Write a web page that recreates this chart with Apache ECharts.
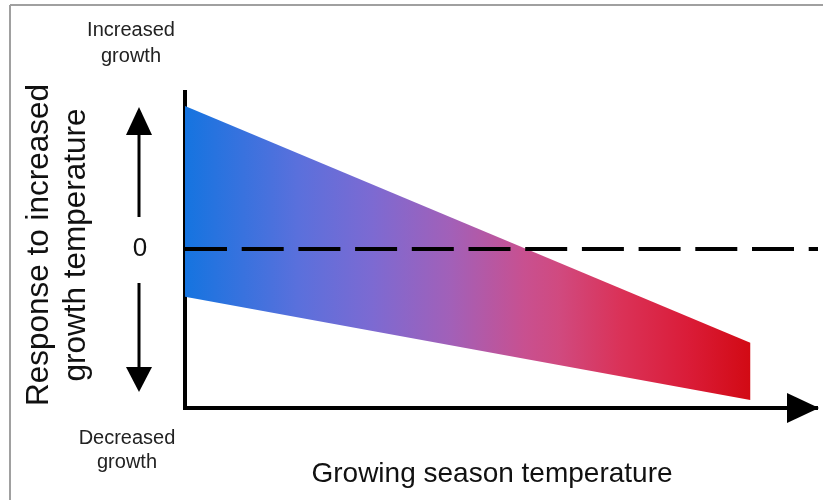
<!DOCTYPE html>
<html>
<head>
<meta charset="utf-8">
<script src="https://cdn.jsdelivr.net/npm/echarts@6/dist/echarts.min.js"></script>
<style>
html,body{margin:0;padding:0;background:#fff;}
#chart{width:823px;height:500px;}
</style>
</head>
<body>
<div id="chart"></div>
<script>
// Conceptual data (arbitrary units): x = growing season temperature, y = response
const bandX = [0, 8.93];          // band start / end along the temperature axis
const bandUpper = [4.5, -2.95];   // upper edge of response band
const bandLower = [-1.5, -4.75];  // lower edge of response band
const zeroLineX = [0, 10];        // extent of dashed zero-response line
const zeroLineY = [0, 0];
const xRange = [0, 10];
const yRange = [-5, 5];
const yTitle = 'Response to increased\ngrowth temperature';
const xTitle = 'Growing season temperature';
const topLabel = 'Increased\ngrowth';
const bottomLabel = 'Decreased\ngrowth';
const zeroLabel = '0';

const FONT = '"Liberation Sans", Arial, Helvetica, sans-serif';
const chart = echarts.init(document.getElementById('chart'), null, {renderer: 'canvas'});

const bandData = bandX.map((x, i) => [x, bandUpper[i], bandLower[i]]);
const zeroData = zeroLineX.map((x, i) => [x, zeroLineY[i]]);

const option = {
  backgroundColor: '#ffffff',
  animation: false,
  grid: {left: 185, right: 5, top: 90, bottom: 92, containLabel: false},
  xAxis: {
    type: 'value', min: xRange[0], max: xRange[1],
    axisLine: {show: true, onZero: false, symbol: ['none', 'triangle'], symbolSize: [30, 32], symbolOffset: [0, -15],
      lineStyle: {color: '#000', width: 4, cap: 'butt'}},
    axisTick: {show: false}, axisLabel: {show: false}, splitLine: {show: false}
  },
  yAxis: {
    type: 'value', min: yRange[0], max: yRange[1],
    axisLine: {show: true, onZero: false, lineStyle: {color: '#000', width: 4, cap: 'butt'}},
    axisTick: {show: false}, axisLabel: {show: false}, splitLine: {show: false}
  },
  series: [
    {
      type: 'custom',
      data: [0],
      clip: false,
      z: 1,
      renderItem: function (params, api) {
        const pts = [];
        for (let i = 0; i < bandData.length; i++) pts.push(api.coord([bandData[i][0], bandData[i][1]]));
        for (let i = bandData.length - 1; i >= 0; i--) pts.push(api.coord([bandData[i][0], bandData[i][2]]));
        return {
          type: 'polygon',
          shape: {points: pts},
          style: {
            fill: new echarts.graphic.LinearGradient(0, 0, 1, 0, [
              {offset: 0, color: '#1574e0'},
              {offset: 0.2, color: '#5a70dc'},
              {offset: 0.33, color: '#7c6ad2'},
              {offset: 0.47, color: '#a260b8'},
              {offset: 0.6, color: '#c85090'},
              {offset: 0.66, color: '#d04a80'},
              {offset: 0.77, color: '#da3258'},
              {offset: 0.89, color: '#da1c38'},
              {offset: 1, color: '#d20a14'}
            ]),
            stroke: null
          }
        };
      }
    },
    {
      type: 'line',
      data: zeroData,
      symbol: 'none',
      z: 5,
      lineStyle: {color: '#000', width: 4, type: [42, 14.7], cap: 'butt'}
    }
  ],
  graphic: [
    // image frame
    {type: 'line', shape: {x1: 10, y1: 5, x2: 823, y2: 5}, style: {stroke: '#a0a0a0', lineWidth: 2}},
    {type: 'line', shape: {x1: 10, y1: 5, x2: 10, y2: 500}, style: {stroke: '#a0a0a0', lineWidth: 2}},
    // corner fill where the two axis lines meet
    {type: 'rect', shape: {x: 183, y: 406, width: 4, height: 4}, style: {fill: '#000'}, z: 100},
    // vertical double arrow
    {type: 'line', shape: {x1: 139, y1: 132, x2: 139, y2: 217}, style: {stroke: '#000', lineWidth: 3}},
    {type: 'polygon', shape: {points: [[139, 107], [126, 135], [152, 135]]}, style: {fill: '#000'}},
    {type: 'line', shape: {x1: 139, y1: 283, x2: 139, y2: 370}, style: {stroke: '#000', lineWidth: 3}},
    {type: 'polygon', shape: {points: [[139, 392], [126, 367], [152, 367]]}, style: {fill: '#000'}},
    {type: 'text', x: 140, y: 249, style: {text: zeroLabel, font: '26px ' + FONT, fill: '#111', align: 'center', verticalAlign: 'middle'}},
    {type: 'text', x: 131, y: 43, style: {text: topLabel, font: '20px ' + FONT, fill: '#222', align: 'center', verticalAlign: 'middle', lineHeight: 26}},
    {type: 'text', x: 127, y: 450, style: {text: bottomLabel, font: '20px ' + FONT, fill: '#222', align: 'center', verticalAlign: 'middle', lineHeight: 24}},
    {type: 'text', x: 58, y: 245, rotation: Math.PI / 2, style: {text: yTitle, font: '31.5px ' + FONT, fill: '#111', align: 'center', verticalAlign: 'middle', lineHeight: 37}},
    {type: 'text', x: 492, y: 474, style: {text: xTitle, font: '28px ' + FONT, fill: '#111', align: 'center', verticalAlign: 'middle'}}
  ]
};
chart.setOption(option);
</script>
</body>
</html>
